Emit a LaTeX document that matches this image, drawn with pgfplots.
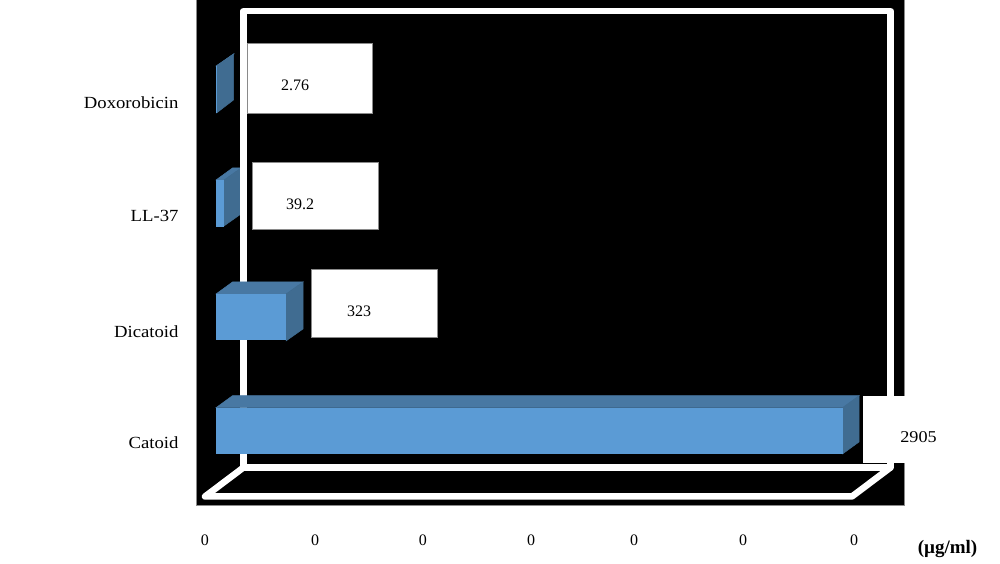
\documentclass[border=0pt]{standalone}
\usepackage{fontspec}
\setmainfont{Liberation Serif}
\newfontfamily\wideserif[FakeStretch=1.1]{Liberation Serif}
\usepackage{pgfplots}
\pgfplotsset{compat=1.18}

\definecolor{barfront}{HTML}{5B9BD5}
\definecolor{bartop}{HTML}{4878A3}
\definecolor{barside}{HTML}{406C91}
\definecolor{edgegrey}{HTML}{8A8A8A}

% decoration shapes are given in picture pixels, the bars in ug/ml
\pgfplotsset{
  px/.style={x filter/.expression={(x-216)/0.21583}, y filter/.expression={(431-y)/113.8}},
  face/.style={px, draw=#1, line width=0.5pt, fill=#1, mark=none, forget plot},
  frame/.style={px, draw=white, line width=6.5pt, line join=round, mark=none, forget plot},
  valbox/.style={px, draw=edgegrey, line width=0.8pt, fill=white, mark=none, forget plot},
  val/.style={xbar, bar shift=0pt, bar width=46.5pt, draw=none, fill=barfront, forget plot},
}

\begin{document}
\begin{tikzpicture}
\begin{axis}[
  scale only axis, width=1000pt, height=564pt,
  xmin=-1000.79, xmax=3632.5, ymin=-1.16872, ymax=3.78735,
  axis line style={draw=none}, tick style={draw=none}, major tick length=0pt,
  font=\fontsize{16}{18}\selectfont,
  ytick={-0.105,0.870,1.889,2.882},
  yticklabels={Catoid,Dicatoid,LL-37\hspace{3pt},Doxorobicin},
  yticklabel style={anchor=east, xshift=182pt, font=\fontsize{17}{18}\wideserif},
  xtick={-51,458.7,959,1459.5,1936.7,2441.8,2956},
  xticklabels={0,0,0,0,0,0,0},
  xticklabel style={anchor=center, yshift=24pt},
  xlabel={\textbf{(µg/ml)}},
  xlabel style={at={(axis description cs:0.9475,0.027)}, anchor=center, font=\fontsize{19}{20}\selectfont},
]
% black panel
\addplot[px, draw=edgegrey, line width=0.8pt, fill=black, mark=none, forget plot] coordinates {(196,-5) (904.5,-5) (904.5,505) (196,505)} --cycle;

% LL-37 and Doxorobicin run behind the frame
\addplot[face=bartop] coordinates {(216,180) (232.5,168) (241,168) (224,180)} --cycle;
\addplot[face=barside] coordinates {(224,180) (241,168) (241,214) (224,226)} --cycle;
\addplot[val] coordinates {(39.2,2)};
\addplot[face=bartop] coordinates {(216,66) (233.5,54) (234,54) (216.6,66)} --cycle;
\addplot[face=barside] coordinates {(216.6,66) (233.5,54) (233.5,100) (216.6,113)} --cycle;
\addplot[val] coordinates {(2.76,3)};

% back wall and floor
\addplot[frame] coordinates {(243.5,11) (890.5,11) (890.5,467.5) (243.5,467.5)} --cycle;
\addplot[frame] coordinates {(243.5,467.5) (205,496.5) (852,496.5) (890.5,467.5)};

% value boxes
\addplot[valbox] coordinates {(247,43.5) (372,43.5) (372,113) (247,113)} --cycle;
\addplot[valbox] coordinates {(252.5,162) (378.5,162) (378.5,229) (252.5,229)} --cycle;
\addplot[valbox] coordinates {(311.5,269) (437.5,269) (437.5,337) (311.5,337)} --cycle;
\addplot[px, draw=none, fill=white, mark=none, forget plot] coordinates {(863,396) (1000,396) (1000,463.5) (863,463.5)} --cycle;

% Dicatoid and Catoid sit in front of the frame
\addplot[face=bartop] coordinates {(216,294) (232.5,282) (303,282) (286,294)} --cycle;
\addplot[face=barside] coordinates {(286,294) (303,282) (303,329) (286,341)} --cycle;
\addplot[val] coordinates {(323,1)};
\addplot[face=bartop] coordinates {(216,407.7) (232.5,395.7) (859,395.7) (843,407.7)} --cycle;
\addplot[face=barside] coordinates {(842.5,407.7) (859,395.7) (859,442) (842.5,454)} --cycle;
\addplot[val] coordinates {(2905,0)};

% value labels
\addplot[px, draw=none, mark=none, forget plot, point meta=explicit symbolic,
  nodes near coords, nodes near coords align=center,
  every node near coord/.style={anchor=center, text=black}]
  coordinates {(295,85) [2.76] (300,204) [39.2] (359,311) [323]};
\addplot[px, draw=none, mark=none, forget plot, point meta=explicit symbolic,
  nodes near coords, nodes near coords align=center,
  every node near coord/.style={anchor=center, text=black, font=\fontsize{16.5}{18}\wideserif}]
  coordinates {(918.5,437) [2905]};
\end{axis}
\end{tikzpicture}
\end{document}
